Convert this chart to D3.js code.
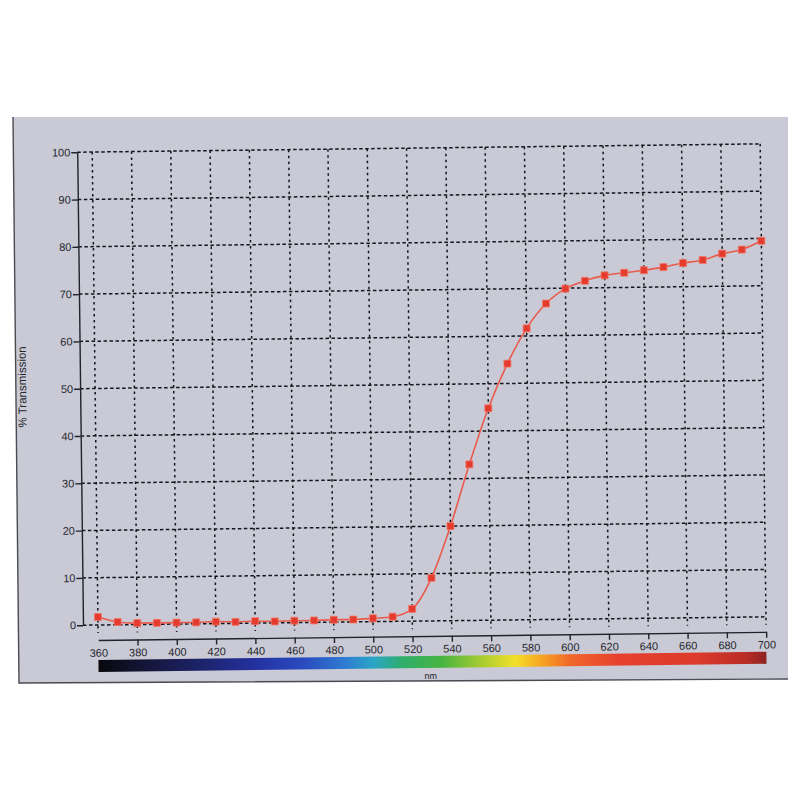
<!DOCTYPE html>
<html><head><meta charset="utf-8">
<script src="https://cdn.jsdelivr.net/npm/d3@7"></script>
<style>body{margin:0;background:#fff}</style>
</head><body>
<svg id="c" width="800" height="800"></svg>
<script>
// ---- data ----
const wavelengths = [360,370,380,390,400,410,420,430,440,450,460,470,480,490,500,510,520,530,540,550,560,570,580,590,600,610,620,630,640,650,660,670,680,690,700];
const transmission = [1.7,0.6,0.3,0.3,0.3,0.3,0.4,0.3,0.4,0.3,0.4,0.4,0.5,0.5,0.7,1.0,2.6,9.1,20.0,33.0,44.8,54.2,61.6,66.8,69.9,71.5,72.6,73.1,73.6,74.2,75.0,75.6,76.9,77.7,79.5];
const xTicks = [360,380,400,420,440,460,480,500,520,540,560,580,600,620,640,660,680,700];
const yTicks = [0,10,20,30,40,50,60,70,80,90,100];
const spectrumNm = [360,385,410,440,465,485,500,515,535,555,572,585,600,625,665,690,700];
const spectrumColors = ["#07070c","#15163a","#1c2266","#2431a0","#2a4cc0","#2f7ad2","#2aa6c6","#2fae6a","#48b440","#a8cc30","#f2e02a","#f7a622","#f1682a","#e6402e","#dc3a2c","#b82c26","#8c2320"];
const yTitle = "% Transmission";
const xTitle = "nm";

const svg = d3.select("#c");
const font = "'Liberation Sans', Arial, sans-serif";

// paper / panel
svg.append("rect").attr("width",800).attr("height",800).attr("fill","#ffffff");
svg.append("path").attr("d","M13,117 L788,117 L788,679 L19,683 Z").attr("fill","#c9cad5");
svg.append("path").attr("d","M13,117 L19,683 L788,679").attr("fill","none").attr("stroke","#4a4a52").attr("stroke-width",1.4);

// chart group (scan tilt)
const g = svg.append("g").attr("transform","rotate(-0.7,98,625)");

const x = d3.scaleLinear().domain([360,700]).range([98,766]);
const y = d3.scaleLinear().domain([0,100]).range([625,152]);
const axisX = 83;

// horizontal grid
g.append("g").selectAll("line").data(yTicks).join("line")
  .attr("x1",axisX).attr("x2",x(700))
  .attr("y1",d=>y(d)).attr("y2",d=>y(d))
  .attr("stroke","#14141c").attr("stroke-width",1.5).attr("stroke-dasharray","3.5,2.5");
// vertical grid
g.append("g").selectAll("line").data(xTicks).join("line")
  .attr("x1",d=>x(d)).attr("x2",d=>x(d))
  .attr("y1",y(100)).attr("y2",y(0)+8)
  .attr("stroke","#14141c").attr("stroke-width",1.5).attr("stroke-dasharray","2.5,3.5");

// y axis
const ya = g.append("g").attr("transform",`translate(${axisX},0)`)
  .call(d3.axisLeft(y).tickValues(yTicks).tickSize(6).tickSizeOuter(0).tickPadding(1));
ya.select(".domain").attr("stroke","#222228").attr("stroke-width",1.4);
ya.selectAll(".tick line").attr("stroke","#222228").attr("stroke-width",1.4);
ya.selectAll("text").attr("font-family",font).attr("font-size",11).attr("fill","#26262c");

// x axis
const xa = g.append("g").attr("transform","translate(0,640)")
  .call(d3.axisBottom(x).tickValues(xTicks).tickSize(6).tickSizeOuter(0).tickPadding(3));
xa.select(".domain").attr("stroke","#222228").attr("stroke-width",1.4);
xa.selectAll(".tick line").attr("stroke","#222228").attr("stroke-width",1.4)
  .attr("opacity",d=>d===360?0:1);
xa.selectAll("text").attr("font-family",font).attr("font-size",11).attr("fill","#26262c");

// spectrum bar
const defs = svg.append("defs");
const grad = defs.append("linearGradient").attr("id","spec").attr("x1","0%").attr("x2","100%");
grad.selectAll("stop").data(spectrumNm).join("stop")
  .attr("offset",(d)=>((d-360)/340*100)+"%")
  .attr("stop-color",(d,i)=>spectrumColors[i]);
g.append("rect").attr("x",x(360)).attr("y",660).attr("width",x(700)-x(360)).attr("height",12)
  .attr("fill","url(#spec)");

g.append("text").attr("x",430).attr("y",683).attr("text-anchor","middle")
  .attr("font-family",font).attr("font-size",9).attr("fill","#26262c").text(xTitle);

g.append("text").attr("transform","translate(29,386) rotate(-90)").attr("text-anchor","middle")
  .attr("font-family",font).attr("font-size",11.5).attr("fill","#26262c").text(yTitle);

// series
const pts = wavelengths.map((w,i)=>[w,transmission[i]]);
g.append("path").datum(pts)
  .attr("d",d3.line().x(d=>x(d[0])).y(d=>y(d[1])).curve(d3.curveMonotoneX))
  .attr("fill","none").attr("stroke","#ea5a4c").attr("stroke-width",1.6);
g.append("g").selectAll("rect").data(pts).join("rect")
  .attr("x",d=>x(d[0])-3.5).attr("y",d=>y(d[1])-3.5).attr("width",7).attr("height",7)
  .attr("fill","#e53a2e").attr("stroke","#f07a6a").attr("stroke-width",0.8);
</script>
</body></html>
